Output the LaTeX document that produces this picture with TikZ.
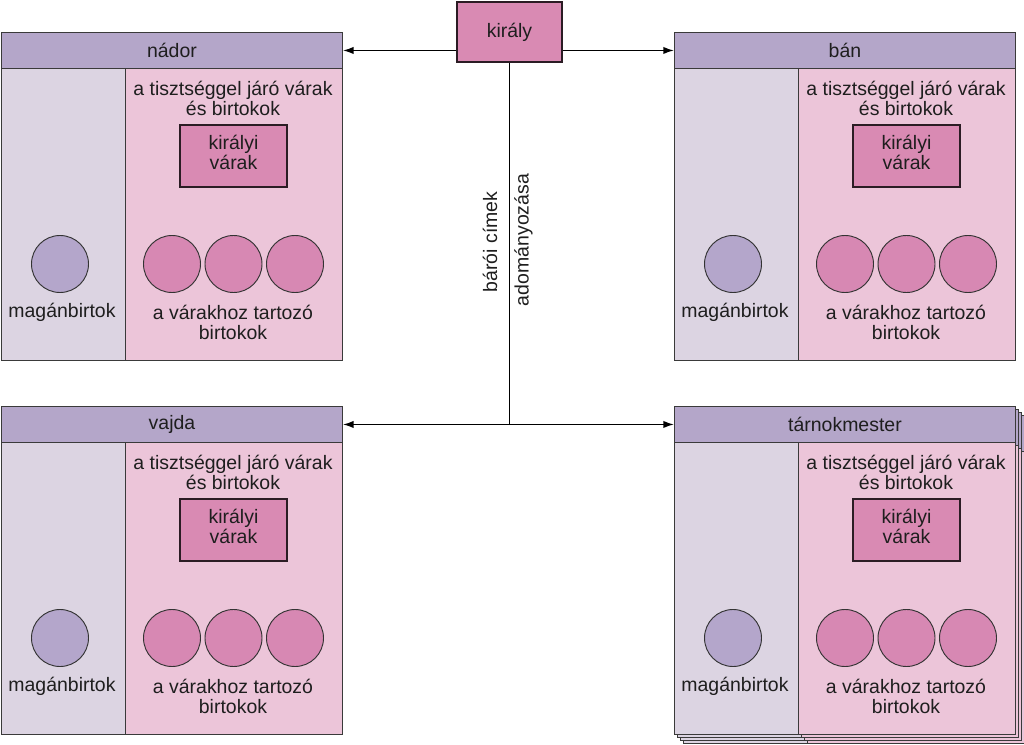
\documentclass[tikz,border=0pt]{standalone}
\usepackage{fontspec}
\setmainfont{Liberation Sans}
\usetikzlibrary{arrows.meta}
\definecolor{headc}{HTML}{B4A6C9}
\definecolor{leftc}{HTML}{DCD4E2}
\definecolor{rightc}{HTML}{ECC5D9}
\definecolor{kingc}{HTML}{D98AB3}
\definecolor{pinkdot}{HTML}{D788B3}
\definecolor{purpdot}{HTML}{B4A6CB}
\definecolor{edgec}{HTML}{3A3A3A}
\definecolor{txtc}{HTML}{1E1E1E}
\tikzset{
  every node/.style={font=\fontsize{14.6}{15}\selectfont, text=txtc, inner sep=0pt},
  head/.style={draw=edgec, fill=headc, line width=0.7pt, minimum width=255.75pt, minimum height=27pt},
  leftcol/.style={draw=edgec, fill=leftc, line width=0.7pt, minimum width=93pt, minimum height=219pt},
  rightcol/.style={draw=edgec, fill=rightc, line width=0.7pt, minimum width=162.75pt, minimum height=219pt},
  castle/.style={draw=black!80!kingc, fill=kingc, line width=0.8pt, minimum width=80.25pt, minimum height=46.5pt},
  king/.style={draw=black!80!kingc, fill=kingc, line width=0.8pt, minimum width=78.75pt, minimum height=45pt},
  pinkestate/.style={circle, draw=black!80, fill=pinkdot, line width=0.7pt, minimum size=42.75pt},
  privestate/.style={circle, draw=black!80, fill=purpdot, line width=0.7pt, minimum size=42.75pt},
  label/.style={align=center},
  backsheet/.style={draw=edgec, line width=0.6pt},
  link/.style={draw=black, line width=1.1pt},
  arrowlink/.style={link, -{Latex[length=8pt,width=5.5pt]}},
}
\newcommand\drawoffice[4]{%
  \node[head, anchor=north west] (#1head) at (#2,#3) {#4};
  \node[leftcol, anchor=north west] (#1left) at (#2,#3+36) {};
  \node[rightcol, anchor=north west] (#1right) at (#2+124,#3+36) {};
  \node[label] (#1duty) at (#2+232,#3+66) {a tisztséggel járó várak\\és birtokok};
  \node[castle] (#1castle) at (#2+232.5,#3+124) {};
  \node[label] (#1castletext) at (#2+232.5,#3+120.5) {királyi\\várak};
  \node[privestate] (#1priv) at (#2+59,#3+232) {};
  \node[pinkestate] (#1esta) at (#2+171,#3+232) {};
  \node[pinkestate] (#1estb) at (#2+232.5,#3+232) {};
  \node[pinkestate] (#1estc) at (#2+294,#3+232) {};
  \node[label] (#1privtext) at (#2+61,#3+280.5) {magánbirtok};
  \node[label] (#1esttext) at (#2+232,#3+290) {a várakhoz tartozó\\birtokok};
}
\newcommand\drawsheet[2]{%
  \draw[backsheet, fill=headc] (#1,#2) rectangle ++(341,36);
  \draw[backsheet, fill=leftc] (#1,#2+36) rectangle ++(124,292);
  \draw[backsheet, fill=rightc] (#1+124,#2+36) rectangle ++(217,292);
}
\begin{document}
\begin{tikzpicture}[x=0.75pt, y=-0.75pt]
  \useasboundingbox[fill=white] (0,0) rectangle (1024,745);
  % back sheets of the tárnokmester stack
  \drawsheet{683}{415}
  \drawsheet{680}{412}
  \drawsheet{677}{409}
  % offices
  \drawoffice{nador}{1}{32}{nádor}
  \drawoffice{ban}{674}{32}{bán}
  \drawoffice{vajda}{1}{406}{vajda}
  \drawoffice{tarnok}{674}{406}{tárnokmester}
  % king
  \node[king] (kiraly) at (509.5,32) {király};
  \coordinate (junc) at (kiraly.south |- vajdahead.east);
  \draw[link] (kiraly.south) -- (junc);
  \draw[arrowlink] (kiraly.west |- nadorhead.east) -- (nadorhead.east);
  \draw[arrowlink] (kiraly.east |- banhead.west) -- (banhead.west);
  \draw[arrowlink] (junc) -- (vajdahead.east);
  \draw[arrowlink] (junc) -- (tarnokhead.west);
  % vertical labels
  \node[rotate=90] (baroi) at (490,242) {bárói címek};
  \node[rotate=90] (adom) at (523.5,240) {adományozása};
\end{tikzpicture}
\end{document}
